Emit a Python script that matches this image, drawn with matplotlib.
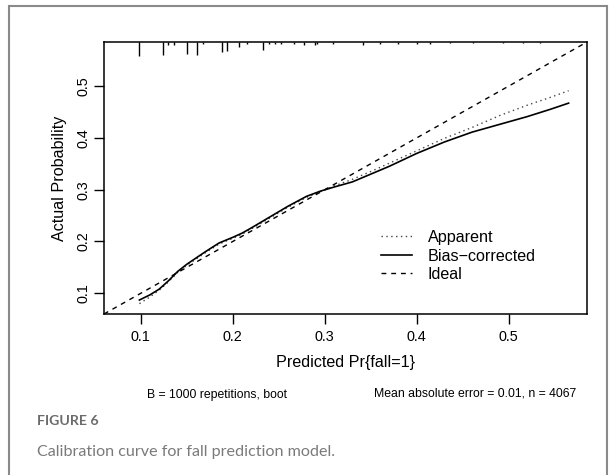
import matplotlib
matplotlib.use("Agg")
import matplotlib.pyplot as plt
import matplotlib.patches as patches
import matplotlib.transforms as mtransforms

plt.rcParams['font.family'] = ['Liberation Sans', 'DejaVu Sans']

# ---- data ----
x_pred = [0.0985, 0.11, 0.12, 0.13, 0.14, 0.15, 0.16, 0.17, 0.185, 0.20, 0.21, 0.22,
          0.24, 0.26, 0.28, 0.295, 0.31, 0.33, 0.35, 0.37, 0.40, 0.43, 0.46, 0.49,
          0.52, 0.545, 0.565]
bias_corrected = [0.087, 0.097, 0.108, 0.124, 0.142, 0.156, 0.168, 0.180, 0.197, 0.208,
                  0.216, 0.226, 0.247, 0.268, 0.287, 0.297, 0.305, 0.315, 0.330, 0.345,
                  0.370, 0.392, 0.411, 0.426, 0.441, 0.455, 0.467]
apparent = [0.080, 0.093, 0.106, 0.122, 0.140, 0.154, 0.166, 0.178, 0.195, 0.206,
            0.214, 0.224, 0.245, 0.266, 0.285, 0.296, 0.307, 0.320, 0.335, 0.351,
            0.375, 0.399, 0.420, 0.443, 0.463, 0.478, 0.491]
ideal = [0.060, 0.585]

rug_x = [0.0985, 0.1239, 0.130, 0.136, 0.150, 0.1615, 0.1677, 0.188, 0.194, 0.207,
         0.215, 0.233, 0.239, 0.246, 0.252, 0.266, 0.2775, 0.2895, 0.292, 0.309,
         0.341, 0.360, 0.380, 0.400, 0.4145, 0.436, 0.461, 0.494, 0.5155, 0.534]
rug_freq = [14, 13, 3, 3, 12, 13, 2, 10, 9, 5,
            2, 8, 2, 2, 2, 1.5, 2.5, 3, 2, 2,
            2.5, 1.5, 1.5, 1.5, 1.5, 1, 1, 1, 1, 1]

x_ticks = [0.1, 0.2, 0.3, 0.4, 0.5]
y_ticks = [0.1, 0.2, 0.3, 0.4, 0.5]
lims = (0.060, 0.585)

# ---- figure ----
W, H = 616, 475
fig = plt.figure(figsize=(W / 100, H / 100), dpi=100)
fig.patch.set_facecolor('white')

# outer frame of the page panel
fig.add_artist(patches.Rectangle((9 / W, -0.05), (607 - 9) / W, 1.05 - 6 / H,
                                 transform=fig.transFigure, fill=False,
                                 edgecolor='#8a8a8a', linewidth=1.5))

ax = fig.add_axes([104 / W, 1 - 314 / H, (587 - 104) / W, (314 - 42) / H])
ax.set_xlim(*lims)
ax.set_ylim(*lims)

ax.plot(x_pred, apparent, color='#444444', linestyle=(0, (1, 2.5)), linewidth=1.0,
        label='Apparent')
ax.plot(x_pred, bias_corrected, color='black', linestyle='-', linewidth=1.2,
        label='Bias\u2212corrected')
ax.plot(ideal, ideal, color='black', linestyle=(0, (3.5, 3.5)), linewidth=1.0,
        label='Ideal')

# rug of predicted-value frequencies along the top
trans = mtransforms.blended_transform_factory(ax.transData, ax.transAxes)
ax_h_px = 314 - 42
ax.vlines(rug_x, [1 - f / ax_h_px for f in rug_freq], 1, transform=trans,
          color='black', linewidth=1.0)

for s in ax.spines.values():
    s.set_linewidth(1.1)
ax.set_xticks(x_ticks)
ax.set_yticks(y_ticks)
ax.set_xticklabels([f"{v:.1f}" for v in x_ticks])
ax.set_yticklabels([f"{v:.1f}" for v in y_ticks], rotation=90, va='center')
ax.tick_params(direction='out', length=7, width=1.0, labelsize=10.4)
ax.tick_params(axis='x', pad=4.5)
ax.tick_params(axis='y', pad=2.5)
ax.set_xlabel('Predicted Pr{fall=1}', fontsize=11.6, labelpad=8)
ax.set_ylabel('Actual Probability', fontsize=11.6, labelpad=7)

leg = ax.legend(loc='upper left', bbox_to_anchor=((381 - 104) / 483, (314 - 230) / 272),
                frameon=False, fontsize=11.6, handlelength=1.9, handletextpad=1.0,
                labelspacing=0.22, borderaxespad=0, borderpad=0)

fig.text(217 / W, 1 - 395 / H, 'B = 1000 repetitions, boot', fontsize=8.8,
         ha='center', va='center')
fig.text(576 / W, 1 - 393 / H, 'Mean absolute error = 0.01, n = 4067', fontsize=8.8,
         ha='right', va='center')

fig.text(37 / W, 1 - 421 / H, 'FIGURE 6', fontsize=10.2, fontweight='bold',
         family=['Lato', 'DejaVu Sans'], color='#6b6b6b', ha='left', va='center')
fig.text(37 / W, 1 - 452 / H, 'Calibration curve for fall prediction model.',
         fontsize=11.6, family=['Lato', 'DejaVu Sans'], color='#7a7a7a',
         ha='left', va='center')

fig.savefig('out.png', dpi=100, facecolor='white')
